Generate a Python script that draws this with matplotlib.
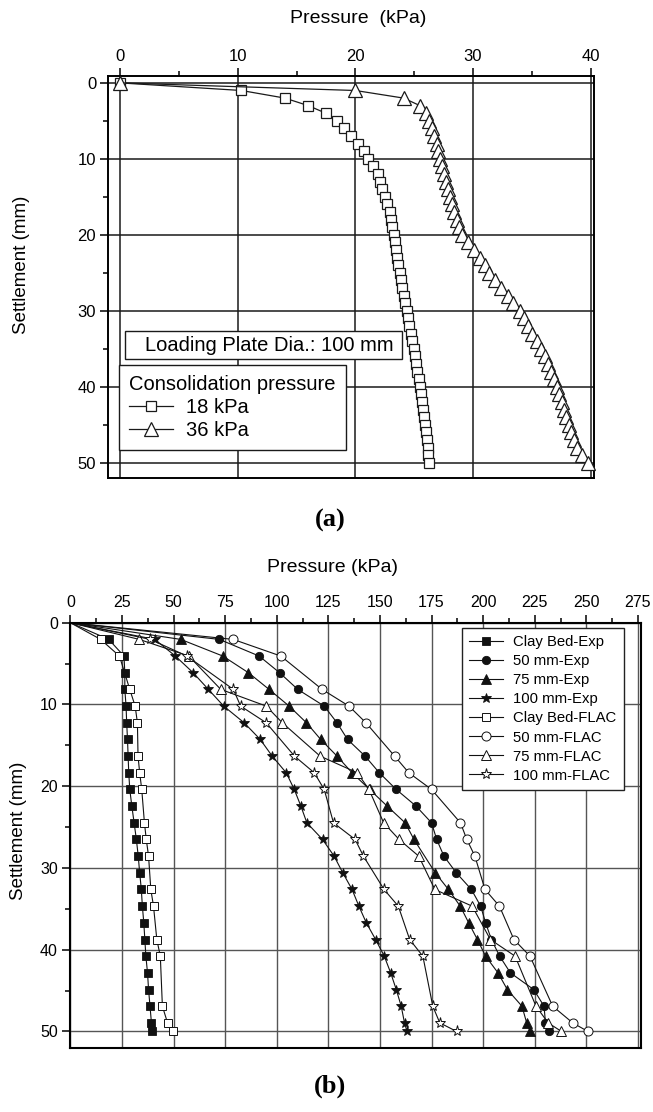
import matplotlib.pyplot as plt
from matplotlib.ticker import MultipleLocator
from matplotlib.patches import Rectangle

plt.rcParams['font.family'] = ['Liberation Sans', 'DejaVu Sans']

# ---------- (a) 100 mm plate, two consolidation pressures ----------
settle_a = [0, 1, 2, 3, 4, 5, 6, 7, 8, 9, 10, 11, 12, 13, 14, 15, 16, 17, 18, 19, 20,
            21, 22, 23, 24, 25, 26, 27, 28, 29, 30, 31, 32, 33, 34, 35, 36, 37, 38, 39, 40,
            41, 42, 43, 44, 45, 46, 47, 48, 49, 50]
p_18kpa = [0, 10.3, 14.0, 16.0, 17.5, 18.4, 19.0, 19.6, 20.2, 20.7, 21.1,
           21.5, 21.9, 22.1, 22.3, 22.5, 22.7, 22.9, 23.0, 23.1, 23.25,
           23.35, 23.45, 23.55, 23.65, 23.75, 23.85, 23.95, 24.1, 24.25, 24.4,
           24.5, 24.6, 24.7, 24.8, 24.95, 25.05, 25.15, 25.25, 25.4, 25.5,
           25.6, 25.65, 25.75, 25.8, 25.9, 26.0, 26.05, 26.15, 26.2, 26.3]
p_36kpa = [0, 20.0, 24.1, 25.5, 26.0, 26.3, 26.5, 26.7, 26.9, 27.05, 27.2,
           27.35, 27.5, 27.7, 27.85, 28.05, 28.2, 28.4, 28.6, 28.85, 29.1,
           29.6, 30.1, 30.6, 31.0, 31.4, 31.85, 32.35, 32.95, 33.4, 34.0,
           34.35, 34.65, 35.05, 35.45, 35.8, 36.1, 36.4, 36.65, 36.9, 37.15,
           37.35, 37.55, 37.75, 37.95, 38.15, 38.35, 38.6, 38.85, 39.3, 39.8]

# ---------- (b) experiments vs FLAC ----------
exp_settle = [0, 2.04, 4.08, 6.12, 8.16, 10.2, 12.24, 14.28, 16.32, 18.36, 20.4, 22.44, 24.48,
              26.52, 28.56, 30.6, 32.64, 34.68, 36.72, 38.76, 40.8, 42.84, 44.88, 46.92, 48.96, 50.0]
exp75_settle = [0, 2.04, 4.08, 6.12, 8.16, 10.2, 12.24, 14.28, 16.32, 18.36, 20.4, 22.44, 24.48,
                26.52, 30.6, 32.64, 34.68, 36.72, 38.76, 40.8, 42.84, 44.88, 46.92, 48.96, 50.0]
flac_settle = [0, 2.04, 4.08, 8.16, 10.2, 12.24, 16.32, 18.36, 20.4, 24.48, 26.52, 28.56,
               32.64, 34.68, 38.76, 40.8, 46.92, 48.96, 50.0]

clay_exp = [0, 18.6, 26.0, 26.4, 26.4, 27.0, 27.3, 27.7, 28.0, 28.3, 28.8, 29.8, 30.9,
            32.0, 32.9, 33.6, 34.4, 34.9, 35.6, 36.1, 36.6, 37.4, 37.9, 38.6, 39.3, 39.6]
d50_exp = [0, 72.2, 91.5, 101.4, 110.2, 123.0, 129.2, 134.3, 142.8, 149.7, 157.9, 167.5, 175.0,
           177.5, 181.0, 187.0, 194.3, 198.8, 201.2, 204.0, 208.0, 213.2, 224.5, 229.5, 230.2, 231.7]
d75_exp = [0, 53.5, 73.9, 86.3, 96.3, 106.0, 114.4, 121.3, 129.2, 136.5, 145.0, 153.5, 162.2,
           166.5, 176.8, 183.2, 188.9, 193.0, 197.2, 201.2, 207.2, 211.7, 218.8, 221.1, 222.8]
d100_exp = [0, 40.9, 50.9, 59.5, 66.9, 74.3, 84.2, 92.0, 97.8, 104.6, 108.5, 111.7, 114.6,
            122.2, 127.8, 132.0, 136.5, 139.8, 143.4, 147.9, 152.1, 155.2, 157.9, 160.3, 161.9, 163.1]

clay_flac = [0, 14.7, 23.8, 28.8, 31.4, 32.5, 32.8, 33.6, 34.6, 35.9, 36.8, 37.9, 39.0,
             40.3, 41.9, 43.6, 44.6, 47.1, 49.9]
d50_flac = [0, 78.9, 102.0, 122.0, 135.0, 143.2, 157.1, 164.0, 175.0, 189.0, 192.1, 196.0,
            200.9, 207.9, 214.9, 222.7, 233.7, 243.4, 250.7]
d75_flac = [0, 33.4, 57.4, 72.9, 94.9, 102.7, 121.0, 139.0, 144.7, 151.8, 159.3, 168.8,
            176.6, 194.7, 203.5, 215.5, 225.6, 231.5, 237.9]
d100_flac = [0, 38.8, 56.5, 79.0, 82.5, 94.9, 108.6, 118.2, 123.0, 127.5, 138.0, 142.0,
             152.0, 158.9, 164.4, 170.8, 175.6, 179.0, 187.1]

fig = plt.figure(figsize=(6.53, 11.12), dpi=100)

# ===================== (a) =====================
ax1 = fig.add_axes([0.1654, 0.5701, 0.7443, 0.3615])
ax1.plot(p_18kpa, settle_a, color='#1a1a1a', lw=0.9, marker='s', ms=7.5,
         mfc='white', mec='#1a1a1a', mew=0.9, label='18 kPa', clip_on=False, zorder=3)
ax1.plot(p_36kpa, settle_a, color='#1a1a1a', lw=0.9, marker='^', ms=10,
         mfc='white', mec='#1a1a1a', mew=0.9, label='36 kPa', clip_on=False, zorder=3)

ax1.set_xlim(-1.05, 40.3)
ax1.set_ylim(52, -0.9)
ax1.xaxis.set_major_locator(MultipleLocator(10))
ax1.xaxis.set_minor_locator(MultipleLocator(5))
ax1.yaxis.set_major_locator(MultipleLocator(10))
ax1.yaxis.set_minor_locator(MultipleLocator(5))
ax1.xaxis.tick_top()
ax1.tick_params(which='both', direction='out', width=1.1, labelsize=12, top=True, bottom=False)
ax1.tick_params(which='major', length=5.5, pad=3)
ax1.tick_params(which='minor', length=3.5)
ax1.grid(True, which='major', color='#1a1a1a', lw=1.1)
ax1.set_axisbelow(True)
for sp in ax1.spines.values():
    sp.set_linewidth(1.4)

ax1.set_xlabel('Pressure  (kPa)', fontsize=14)
ax1.xaxis.set_label_position('top')
ax1.xaxis.set_label_coords(0.514, 1.144)
ax1.xaxis.label.set_va('center')
ax1.set_ylabel('Settlement (mm)', fontsize=13.5)
ax1.yaxis.set_label_coords(-0.177, 0.53)
ax1.yaxis.label.set_va('center')

ax1.add_patch(Rectangle((0.035, 0.295), 0.569, 0.071, transform=ax1.transAxes,
                        facecolor='white', edgecolor='#1a1a1a', lw=1.0, zorder=4))
ax1.text(0.076, 0.3305, 'Loading Plate Dia.: 100 mm', transform=ax1.transAxes,
         fontsize=14.5, ha='left', va='center', zorder=5)

leg1 = ax1.legend(loc='lower left', bbox_to_anchor=(0.0226, 0.0697), borderaxespad=0,
                  title='Consolidation pressure', title_fontsize=14.5, fontsize=14.5,
                  alignment='left', fancybox=False, edgecolor='#1a1a1a', framealpha=1,
                  handlelength=2.2, handletextpad=0.65, labelspacing=0.2, borderpad=0.5)
leg1.get_frame().set_linewidth(1.0)

fig.text(0.505, 0.532, '(a)', fontsize=19, fontweight='bold', family='Liberation Serif',
         ha='center', va='center')

# ===================== (b) =====================
ax2 = fig.add_axes([0.1077, 0.0578, 0.874, 0.3822])
ax2.set_axisbelow(True)

exp_style = dict(color='#111111', lw=0.8, mec='#111111', mew=0.6, markevery=slice(1, None))
flac_style = dict(color='#111111', lw=0.8, mec='#111111', mfc='white', mew=0.7,
                  markevery=slice(1, None))

ax2.plot(clay_exp, exp_settle, marker='s', ms=5.5, mfc='#111111', label='Clay Bed-Exp', **exp_style)
ax2.plot(d50_exp, exp_settle, marker='o', ms=6, mfc='#111111', label='50 mm-Exp', **exp_style)
ax2.plot(d75_exp, exp75_settle, marker='^', ms=6.5, mfc='#111111', label='75 mm-Exp', **exp_style)
ax2.plot(d100_exp, exp_settle, marker='*', ms=7.5, mfc='#111111', label='100 mm-Exp', **exp_style)
ax2.plot(clay_flac, flac_settle, marker='s', ms=5.5, label='Clay Bed-FLAC', **flac_style)
ax2.plot(d50_flac, flac_settle, marker='o', ms=6.5, label='50 mm-FLAC', **flac_style)
ax2.plot(d75_flac, flac_settle, marker='^', ms=7, label='75 mm-FLAC', **flac_style)
ax2.plot(d100_flac, flac_settle, marker='*', ms=8, label='100 mm-FLAC', **flac_style)

ax2.set_xlim(0, 276.5)
ax2.set_ylim(52, 0)
ax2.xaxis.set_major_locator(MultipleLocator(25))
ax2.xaxis.set_minor_locator(MultipleLocator(12.5))
ax2.yaxis.set_major_locator(MultipleLocator(10))
ax2.yaxis.set_minor_locator(MultipleLocator(5))
ax2.xaxis.tick_top()
ax2.tick_params(which='both', direction='out', width=1.1, labelsize=11.5, top=True, bottom=False)
ax2.tick_params(which='major', length=6, pad=3)
ax2.tick_params(which='minor', length=3.5)
ax2.grid(True, which='major', color='#555555', lw=1.0)
for sp in ax2.spines.values():
    sp.set_linewidth(1.5)

ax2.set_xlabel('Pressure (kPa)', fontsize=14)
ax2.xaxis.set_label_position('top')
ax2.xaxis.set_label_coords(0.46, 1.131)
ax2.xaxis.label.set_va('center')
ax2.set_ylabel('Settlement (mm)', fontsize=13.5)
ax2.yaxis.set_label_coords(-0.0916, 0.51)
ax2.yaxis.label.set_va('center')

leg2 = ax2.legend(loc='upper left', bbox_to_anchor=(0.686, 0.988), borderaxespad=0,
                  fontsize=10.7, fancybox=False, edgecolor='#222222', framealpha=1,
                  handlelength=2.3, handletextpad=0.65, labelspacing=0.34, borderpad=0.5,
                  markerscale=1.0)
leg2.get_frame().set_linewidth(1.0)

fig.text(0.505, 0.023, '(b)', fontsize=19, fontweight='bold', family='Liberation Serif',
         ha='center', va='center')

fig.savefig('out.png', dpi=100)
